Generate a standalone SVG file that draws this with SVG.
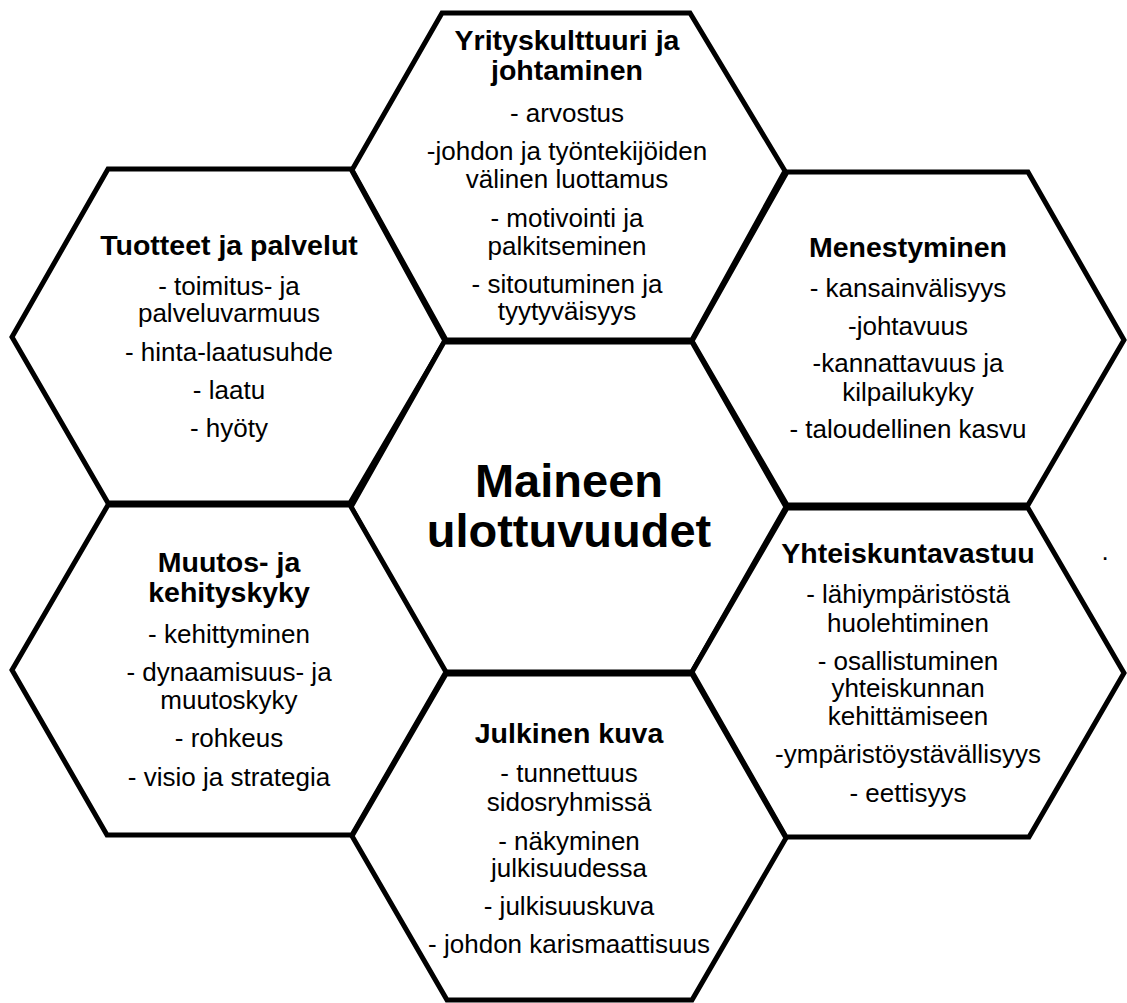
<svg xmlns="http://www.w3.org/2000/svg" width="1127" height="1003" viewBox="0 0 1127 1003">
  <style>
    .hex { fill: #ffffff; stroke: #000000; stroke-width: 5; stroke-linejoin: miter; }
    text { font-family: "Liberation Sans", Arial, sans-serif; fill: #000000; text-anchor: middle; }
    .title { font-size: 28.5px; font-weight: bold; }
    .item { font-size: 26px; }
    .main { font-size: 47px; font-weight: bold; }
  </style>
  <rect width="1127" height="1003" fill="#ffffff"/>

  <!-- honeycomb cells: each cell is its own polygon, so shared borders double up -->
  <g id="hex-yrityskulttuuri">
    <polygon class="hex" points="442,13 690,13 785,171 692,340 446,340 352,170"/>
    <text class="title" x="567" y="50">Yrityskulttuuri ja</text>
    <text class="title" x="567" y="80">johtaminen</text>
    <text class="item" x="567" y="122">- arvostus</text>
    <text class="item" x="567" y="160">-johdon ja työntekijöiden</text>
    <text class="item" x="567" y="188">välinen luottamus</text>
    <text class="item" x="567" y="227">- motivointi ja</text>
    <text class="item" x="567" y="255">palkitseminen</text>
    <text class="item" x="567" y="293">- sitoutuminen ja</text>
    <text class="item" x="567" y="320">tyytyväisyys</text>
  </g>

  <g id="hex-tuotteet">
    <polygon class="hex" points="108,169 351,169 445,341 350,503 108,503 12,337"/>
    <text class="title" x="229" y="255">Tuotteet ja palvelut</text>
    <text class="item" x="229" y="295">- toimitus- ja</text>
    <text class="item" x="229" y="322">palveluvarmuus</text>
    <text class="item" x="229" y="361">- hinta-laatusuhde</text>
    <text class="item" x="229" y="399">- laatu</text>
    <text class="item" x="229" y="437">- hyöty</text>
  </g>

  <g id="hex-menestyminen">
    <polygon class="hex" points="787,172 1028,172 1124,340 1028,505 787,505 692,341"/>
    <text class="title" x="908" y="257">Menestyminen</text>
    <text class="item" x="908" y="297">- kansainvälisyys</text>
    <text class="item" x="908" y="335">-johtavuus</text>
    <text class="item" x="908" y="372">-kannattavuus ja</text>
    <text class="item" x="908" y="401">kilpailukyky</text>
    <text class="item" x="908" y="438">- taloudellinen kasvu</text>
  </g>

  <g id="hex-keskus">
    <polygon class="hex" points="444,342 692,342 786,507 692,672 443,672 351,507"/>
    <text class="main" x="569" y="497">Maineen</text>
    <text class="main" x="569" y="547">ulottuvuudet</text>
  </g>

  <g id="hex-muutos">
    <polygon class="hex" points="108,505 350,505 446,672 352,835 107,835 12,670"/>
    <text class="title" x="229" y="572">Muutos- ja</text>
    <text class="title" x="229" y="602">kehityskyky</text>
    <text class="item" x="229" y="643">- kehittyminen</text>
    <text class="item" x="229" y="681">- dynaamisuus- ja</text>
    <text class="item" x="229" y="709">muutoskyky</text>
    <text class="item" x="229" y="747">- rohkeus</text>
    <text class="item" x="229" y="786">- visio ja strategia</text>
  </g>

  <g id="hex-yhteiskuntavastuu">
    <polygon class="hex" points="787,508 1028,508 1124,673 1029,837 786,837 692,672"/>
    <text class="title" x="908" y="563">Yhteiskuntavastuu</text>
    <text class="item" x="908" y="603">- lähiympäristöstä</text>
    <text class="item" x="908" y="632">huolehtiminen</text>
    <text class="item" x="908" y="670">- osallistuminen</text>
    <text class="item" x="908" y="697">yhteiskunnan</text>
    <text class="item" x="908" y="725">kehittämiseen</text>
    <text class="item" x="908" y="763">-ympäristöystävällisyys</text>
    <text class="item" x="908" y="802">- eettisyys</text>
  </g>

  <g id="hex-julkinen">
    <polygon class="hex" points="446,674 692,674 786,838 692,1000 447,1000 352,836"/>
    <text class="title" x="569" y="743">Julkinen kuva</text>
    <text class="item" x="569" y="782">- tunnettuus</text>
    <text class="item" x="569" y="811">sidosryhmissä</text>
    <text class="item" x="569" y="850">- näkyminen</text>
    <text class="item" x="569" y="877">julkisuudessa</text>
    <text class="item" x="569" y="915">- julkisuuskuva</text>
    <text class="item" x="569" y="953">- johdon karismaattisuus</text>
  </g>

  <!-- stray full stop beside the right-hand cells -->
  <text class="item" x="1105" y="560">.</text>

  <!-- the cells touch directly; there are no separate connectors -->
  <g id="connectors"/>
</svg>
